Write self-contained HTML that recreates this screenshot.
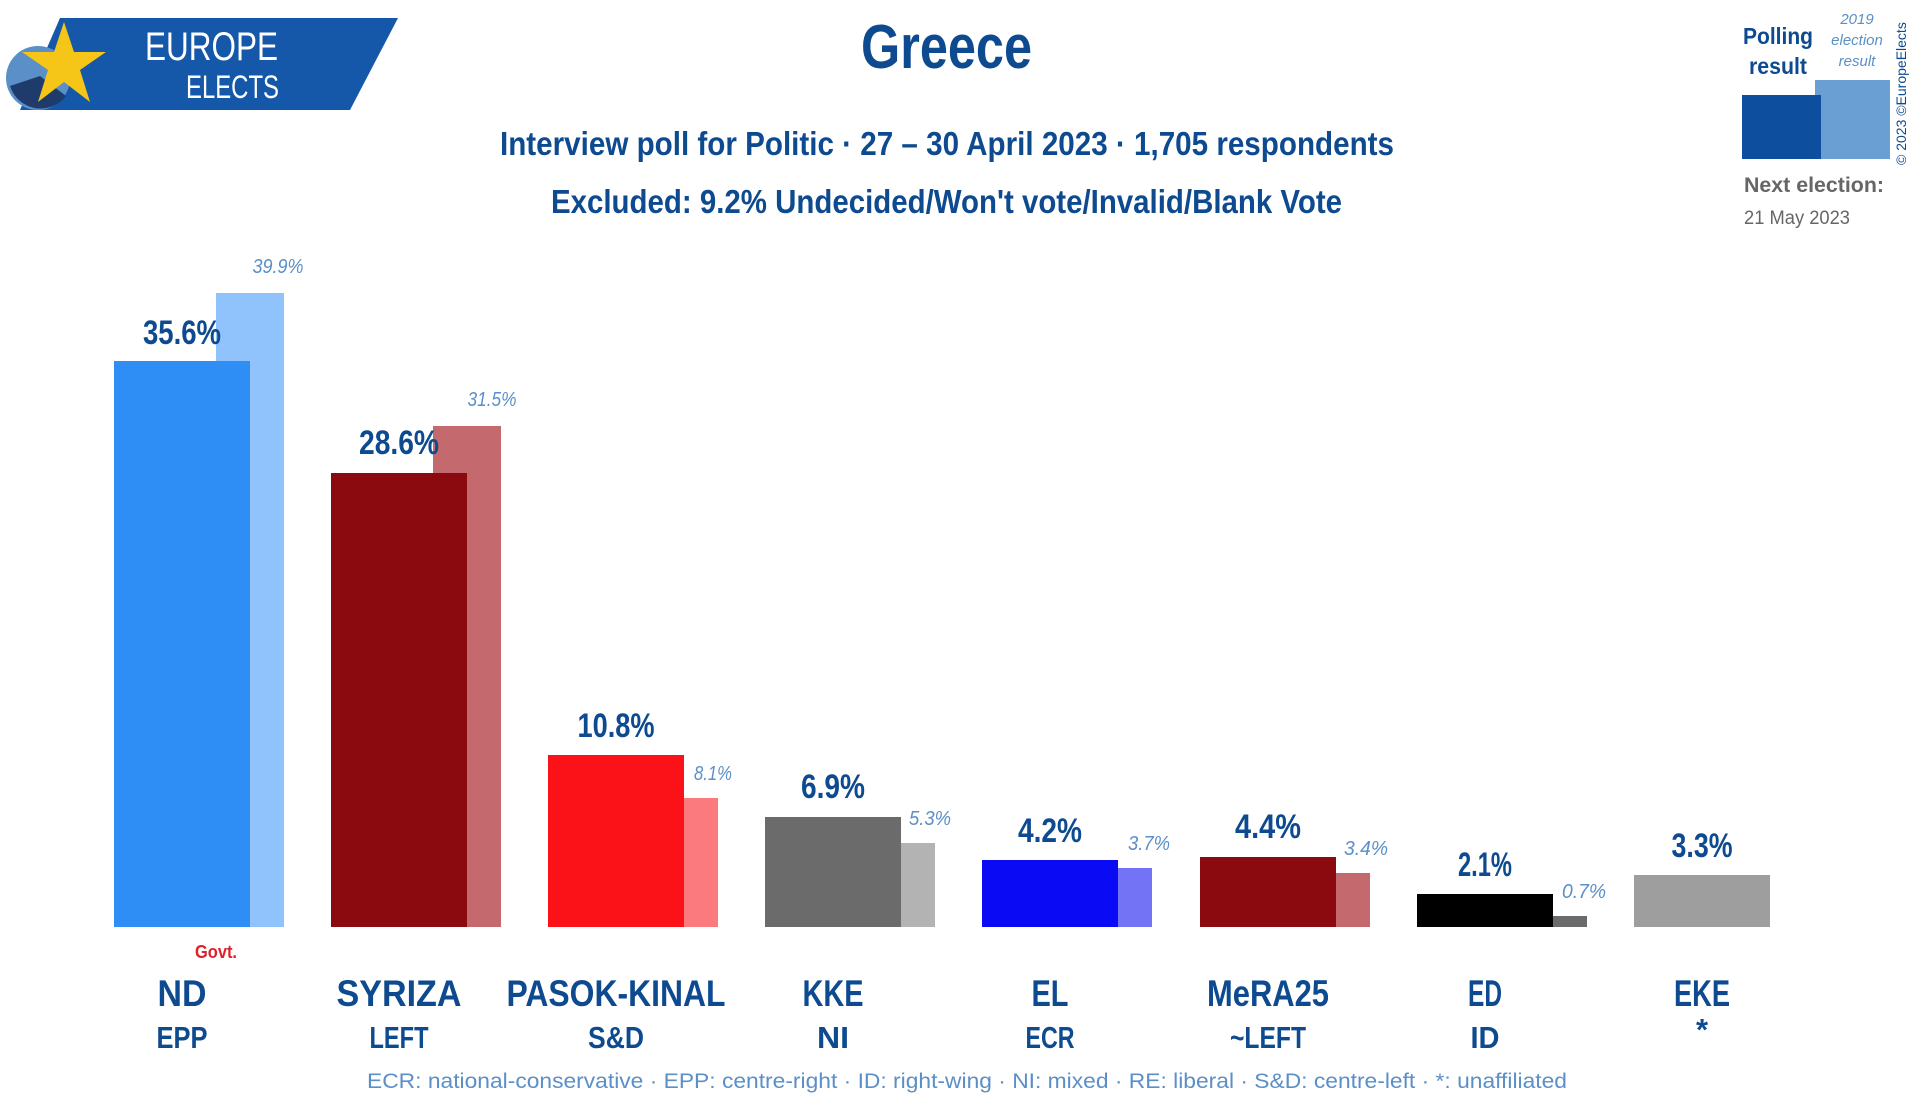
<!DOCTYPE html>
<html><head><meta charset="utf-8"><style>
html,body{margin:0;padding:0;background:#fff;}
svg{display:block;}
text{font-family:"Liberation Sans",sans-serif;}
</style></head><body>
<svg width="1920" height="1108" viewBox="0 0 1920 1108" xmlns="http://www.w3.org/2000/svg">
<!-- logo -->
<polygon points="60,18 398,18 350,110 20,110" fill="#1557a8"/>
<circle cx="38" cy="78" r="32" fill="#5b8fc7"/>
<path d="M10,86 A32,32 0 0 0 66,96 L40,76 Z" fill="#1f3b6b"/>
<polygon points="64,22 74,52 106,52 80,70 90,102 64,82 38,102 48,70 22,52 54,52" fill="#f5c518"/>
<text x="145" y="60" font-size="40" fill="#fff" textLength="133" lengthAdjust="spacingAndGlyphs">EUROPE</text>
<text x="186" y="98" font-size="32" fill="#fff" textLength="93" lengthAdjust="spacingAndGlyphs">ELECTS</text>
<!-- titles -->
<text x="861" y="68" font-size="62" font-weight="bold" fill="#0d4a8f" textLength="171" lengthAdjust="spacingAndGlyphs">Greece</text>
<text x="500" y="155" font-size="33" font-weight="bold" fill="#0d4a8f" textLength="894" lengthAdjust="spacingAndGlyphs">Interview poll for Politic · 27 – 30 April 2023 · 1,705 respondents</text>
<text x="551" y="213" font-size="33" font-weight="bold" fill="#0d4a8f" textLength="791" lengthAdjust="spacingAndGlyphs">Excluded: 9.2% Undecided/Won't vote/Invalid/Blank Vote</text>
<!-- legend -->
<text x="1778" y="44" font-size="23" font-weight="bold" fill="#0d4a8f" text-anchor="middle" textLength="70" lengthAdjust="spacingAndGlyphs">Polling</text>
<text x="1778" y="74" font-size="23" font-weight="bold" fill="#0d4a8f" text-anchor="middle" textLength="58" lengthAdjust="spacingAndGlyphs">result</text>
<text x="1857" y="24" font-size="15" font-style="italic" fill="#5b8fc7" text-anchor="middle">2019</text>
<text x="1857" y="45" font-size="15" font-style="italic" fill="#5b8fc7" text-anchor="middle">election</text>
<text x="1857" y="66" font-size="15" font-style="italic" fill="#5b8fc7" text-anchor="middle">result</text>
<rect x="1815" y="80" width="75" height="79" fill="#6a9fd4"/>
<rect x="1742" y="95" width="79" height="64" fill="#0d4f9e"/>
<text x="1906" y="165" font-size="14" fill="#0d4a8f" transform="rotate(-90 1906 165)">© 2023 ©EuropeElects</text>
<text x="1744" y="192" font-size="21" font-weight="bold" fill="#666" textLength="140" lengthAdjust="spacingAndGlyphs">Next election:</text>
<text x="1744" y="224" font-size="19" fill="#666" textLength="106" lengthAdjust="spacingAndGlyphs">21 May 2023</text>
<!-- bars -->
<g>
<rect x="216" y="293" width="68" height="634" fill="#90c2fb"/>
<rect x="114" y="361" width="136" height="566" fill="#2e8ef5"/>
<rect x="433" y="426" width="68" height="501" fill="#c46a6e"/>
<rect x="331" y="473" width="136" height="454" fill="#8b0a0f"/>
<rect x="650" y="798" width="68" height="129" fill="#fb7a7e"/>
<rect x="548" y="755" width="136" height="172" fill="#fb1219"/>
<rect x="867" y="843" width="68" height="84" fill="#b3b3b3"/>
<rect x="765" y="817" width="136" height="110" fill="#6b6b6b"/>
<rect x="1084" y="868" width="68" height="59" fill="#7373f5"/>
<rect x="982" y="860" width="136" height="67" fill="#0a0af5"/>
<rect x="1302" y="873" width="68" height="54" fill="#c46a6e"/>
<rect x="1200" y="857" width="136" height="70" fill="#8b0a0f"/>
<rect x="1519" y="916" width="68" height="11" fill="#6b6b6b"/>
<rect x="1417" y="894" width="136" height="33" fill="#000"/>
<rect x="1634" y="875" width="136" height="52" fill="#9e9e9e"/>
</g>
<!-- value labels -->
<g font-size="34" font-weight="bold" fill="#0d4a8f" text-anchor="middle" lengthAdjust="spacingAndGlyphs">
<text x="182" y="344" textLength="78" lengthAdjust="spacingAndGlyphs">35.6%</text>
<text x="399" y="454" textLength="80" lengthAdjust="spacingAndGlyphs">28.6%</text>
<text x="616" y="737" textLength="77" lengthAdjust="spacingAndGlyphs">10.8%</text>
<text x="833" y="798" textLength="64" lengthAdjust="spacingAndGlyphs">6.9%</text>
<text x="1050" y="842" textLength="64" lengthAdjust="spacingAndGlyphs">4.2%</text>
<text x="1268" y="838" textLength="66" lengthAdjust="spacingAndGlyphs">4.4%</text>
<text x="1485" y="876" textLength="54" lengthAdjust="spacingAndGlyphs">2.1%</text>
<text x="1702" y="857" textLength="61" lengthAdjust="spacingAndGlyphs">3.3%</text>
</g>
<g font-size="20" font-style="italic" fill="#5b8fc7" text-anchor="middle">
<text x="278" y="273" textLength="51" lengthAdjust="spacingAndGlyphs">39.9%</text>
<text x="492" y="406" textLength="49" lengthAdjust="spacingAndGlyphs">31.5%</text>
<text x="713" y="780" textLength="38" lengthAdjust="spacingAndGlyphs">8.1%</text>
<text x="930" y="825" textLength="42" lengthAdjust="spacingAndGlyphs">5.3%</text>
<text x="1149" y="850" textLength="42" lengthAdjust="spacingAndGlyphs">3.7%</text>
<text x="1366" y="855" textLength="44" lengthAdjust="spacingAndGlyphs">3.4%</text>
<text x="1584" y="898" textLength="44" lengthAdjust="spacingAndGlyphs">0.7%</text>
</g>
<text x="216" y="958" font-size="18" font-weight="bold" fill="#e0202a" text-anchor="middle" textLength="42" lengthAdjust="spacingAndGlyphs">Govt.</text>
<!-- party names -->
<g font-size="37" font-weight="bold" fill="#0d4a8f" text-anchor="middle">
<text x="182" y="1006" textLength="49" lengthAdjust="spacingAndGlyphs">ND</text>
<text x="399" y="1006" textLength="125" lengthAdjust="spacingAndGlyphs">SYRIZA</text>
<text x="616" y="1006" textLength="219" lengthAdjust="spacingAndGlyphs">PASOK-KINAL</text>
<text x="833" y="1006" textLength="61" lengthAdjust="spacingAndGlyphs">KKE</text>
<text x="1050" y="1006" textLength="37" lengthAdjust="spacingAndGlyphs">EL</text>
<text x="1268" y="1006" textLength="122" lengthAdjust="spacingAndGlyphs">MeRA25</text>
<text x="1485" y="1006" textLength="34" lengthAdjust="spacingAndGlyphs">ED</text>
<text x="1702" y="1006" textLength="56" lengthAdjust="spacingAndGlyphs">EKE</text>
</g>
<g font-size="31" font-weight="bold" fill="#0d4a8f" text-anchor="middle">
<text x="182" y="1048" textLength="51" lengthAdjust="spacingAndGlyphs">EPP</text>
<text x="399" y="1048" textLength="59" lengthAdjust="spacingAndGlyphs">LEFT</text>
<text x="616" y="1048" textLength="56" lengthAdjust="spacingAndGlyphs">S&amp;D</text>
<text x="833" y="1048" textLength="32" lengthAdjust="spacingAndGlyphs">NI</text>
<text x="1050" y="1048" textLength="49" lengthAdjust="spacingAndGlyphs">ECR</text>
<text x="1268" y="1048" textLength="76" lengthAdjust="spacingAndGlyphs">~LEFT</text>
<text x="1485" y="1048" textLength="29" lengthAdjust="spacingAndGlyphs">ID</text>
<text x="1702" y="1040">*</text>
</g>
<text x="367" y="1088" font-size="21" fill="#5b8fc7" textLength="1200" lengthAdjust="spacingAndGlyphs">ECR: national-conservative · EPP: centre-right · ID: right-wing · NI: mixed · RE: liberal · S&amp;D: centre-left · *: unaffiliated</text>
</svg>
</body></html>
